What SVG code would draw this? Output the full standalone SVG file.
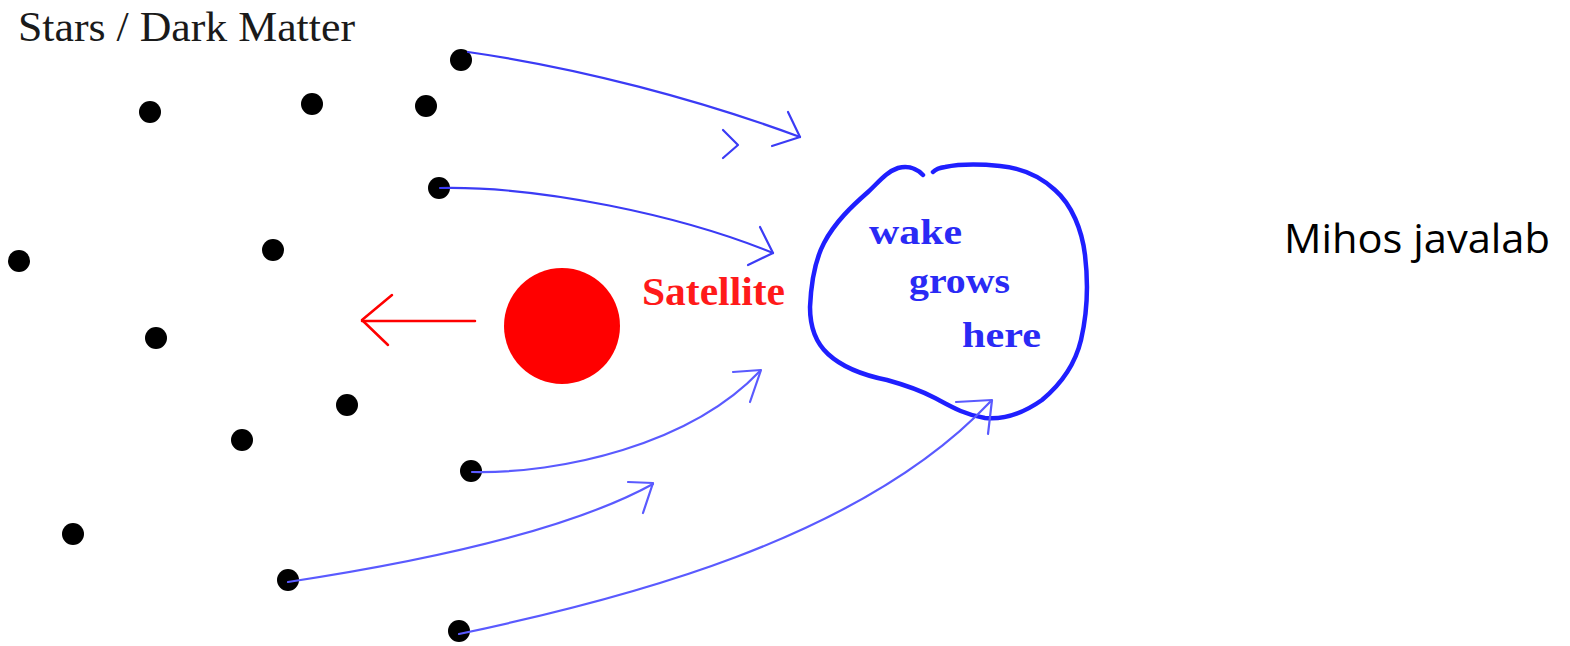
<svg xmlns="http://www.w3.org/2000/svg" width="1570" height="646" viewBox="0 0 1570 646">
<style>
.dot{fill:#000}
.flow{fill:none;stroke:#3b3bf5;stroke-width:2.2;stroke-linecap:round;stroke-linejoin:round}
.flow2{fill:none;stroke:#5a5aff;stroke-width:2.2;stroke-linecap:round;stroke-linejoin:round}
.serif{font-family:"Liberation Serif","Times New Roman",serif}
.blue{fill:#2a2af5;font-weight:bold}
</style>
<rect width="1570" height="646" fill="#fff"/>
<g id="title"><text class="serif" x="18" y="41" font-size="42" fill="#1a1a1a" textLength="337" lengthAdjust="spacingAndGlyphs">Stars / Dark Matter</text></g>
<g id="stars">
<circle class="dot" cx="461" cy="60" r="11"/>
<circle class="dot" cx="150" cy="112" r="11"/>
<circle class="dot" cx="312" cy="104" r="11"/>
<circle class="dot" cx="426" cy="106" r="11"/>
<circle class="dot" cx="439" cy="188" r="11"/>
<circle class="dot" cx="19" cy="261" r="11"/>
<circle class="dot" cx="273" cy="250" r="11"/>
<circle class="dot" cx="156" cy="338" r="11"/>
<circle class="dot" cx="347" cy="405" r="11"/>
<circle class="dot" cx="242" cy="440" r="11"/>
<circle class="dot" cx="73" cy="534" r="11"/>
<circle class="dot" cx="471" cy="471" r="11"/>
<circle class="dot" cx="288" cy="580" r="11"/>
<circle class="dot" cx="459" cy="631" r="11"/>
</g>
<g id="satellite">
<circle cx="562" cy="326" r="58" fill="#ff0000"/>
<text class="serif" x="642" y="305" font-size="40" font-weight="bold" fill="#ff1a1a" textLength="143" lengthAdjust="spacingAndGlyphs">Satellite</text>
</g>
<g id="wake">
<path fill="none" stroke="#1f1fff" stroke-width="4.5" stroke-linecap="round" stroke-linejoin="round" d="M923,175 C917,169 910,165 898,168 C886,172 878,183 868,192 C852,206 835,222 824,243 C814,262 811,285 810,307 C810,328 816,343 828,354 C842,367 862,375 887,380 C905,385 920,390 935,398 C950,406 965,415 985,418 C1005,420 1025,412 1042,400 C1060,385 1075,365 1081,340 C1088,310 1088,280 1085,255 C1082,230 1072,205 1055,190 C1040,176 1022,168 1000,166 C980,164 960,164 945,167 C938,168 935,170 933,172"/>
<text class="serif blue" x="869" y="244" font-size="36" textLength="93" lengthAdjust="spacingAndGlyphs">wake</text>
<text class="serif blue" x="909" y="293" font-size="36" textLength="101" lengthAdjust="spacingAndGlyphs">grows</text>
<text class="serif blue" x="962" y="347" font-size="36" textLength="79" lengthAdjust="spacingAndGlyphs">here</text>
</g>
<g id="credit"><text x="1284" y="253" font-family="'Open Sans','Noto Sans',sans-serif" font-size="40" fill="#000" textLength="266" lengthAdjust="spacingAndGlyphs">Mihos javalab</text></g>
<g id="connectors">
<path class="flow" d="M468,52 C580,68 700,100 800,137"/>
<polyline class="flow" points="788,112 800,137 772,146"/>
<polyline class="flow" points="723,130 738,145 723,158"/>
<path class="flow" d="M440,188 C540,186 680,215 773,253"/>
<polyline class="flow" points="760,227 773,253 748,265"/>
<path class="flow2" d="M472,472 C560,474 690,445 760,371"/>
<polyline class="flow2" points="733,372 761,370 750,402"/>
<path class="flow2" d="M288,582 C400,565 560,535 653,484"/>
<polyline class="flow2" points="628,482 653,483 643,513"/>
<path class="flow2" d="M459,634 C620,600 860,540 990,402"/>
<polyline class="flow2" points="956,402 992,400 988,434"/>
<line x1="475" y1="321" x2="362" y2="321" stroke="#ff0000" stroke-width="2.5" stroke-linecap="round"/>
<polyline points="392,295 362,320 388,345" fill="none" stroke="#ff0000" stroke-width="2.5" stroke-linecap="round" stroke-linejoin="round"/>
</g>
</svg>
